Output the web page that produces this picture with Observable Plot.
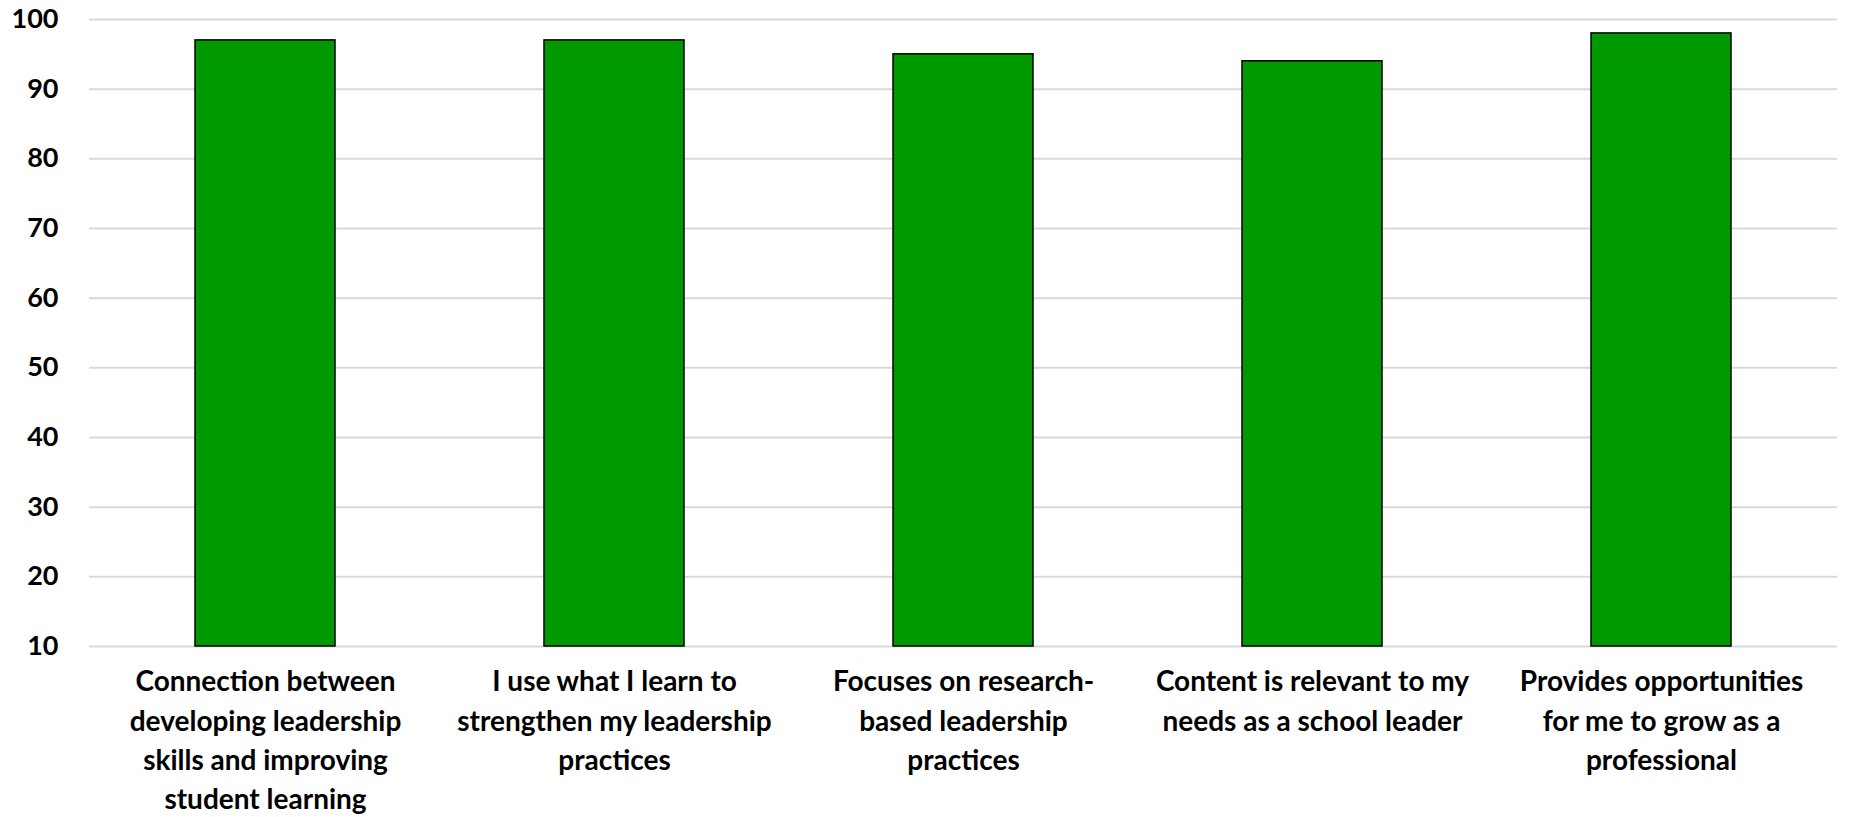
<!DOCTYPE html>
<html>
<head>
<meta charset="utf-8">
<script src="https://cdn.jsdelivr.net/npm/d3@7"></script>
<script src="https://cdn.jsdelivr.net/npm/@observablehq/plot@0.6"></script>
<style>
  html, body { margin: 0; padding: 0; background: #fff; }
  #chart svg { display: block; }
</style>
</head>
<body>
<div id="chart"></div>
<script>
const categories = [
  "Connection between developing leadership skills and improving student learning",
  "I use what I learn to strengthen my leadership practices",
  "Focuses on research-based leadership practices",
  "Content is relevant to my needs as a school leader",
  "Provides opportunities for me to grow as a professional"
];
const tickLabels = [
  "Connection between\ndeveloping leadership\nskills and improving\nstudent learning",
  "I use what I learn to\nstrengthen my leadership\npractices",
  "Focuses on research-\nbased leadership\npractices",
  "Content is relevant to my\nneeds as a school leader",
  "Provides opportunities\nfor me to grow as a\nprofessional"
];
const values = [97, 97, 95, 94, 98];
const yTicks = [10, 20, 30, 40, 50, 60, 70, 80, 90, 100];

const data = categories.map((c, i) => ({category: c, label: tickLabels[i], value: values[i]}));
const labelOf = new Map(data.map(d => [d.category, d.label]));

const chart = Plot.plot({
  width: 1850,
  height: 817,
  marginTop: 19,
  marginBottom: 171,
  marginLeft: 89,
  marginRight: 13,
  style: {fontFamily: "Lato, 'Open Sans', sans-serif", fontWeight: "bold", color: "#000", background: "#fff"},
  x: {domain: categories, paddingInner: 0.6, paddingOuter: 0.3, label: null},
  y: {domain: [10, 100], label: null},
  marks: [
    Plot.gridY(yTicks, {stroke: "#d9d9d9", strokeOpacity: 1, strokeWidth: 2}),
    Plot.barY(data, {x: "category", y1: () => 10, y2: "value", fill: "#009900", stroke: "#000", strokeWidth: 1.5}),
    Plot.axisY(yTicks, {tickSize: 0, tickPadding: 31, fontSize: 27, fontWeight: "bold", fill: "#000", label: null}),
    Plot.axisX({tickSize: 0, tickPadding: 17, fontSize: 28, fontWeight: "bold", fill: "#000", lineHeight: 1.4, tickFormat: d => labelOf.get(d), label: null, style: {letterSpacing: "0.8px"}})
  ]
});
document.getElementById("chart").appendChild(chart);
</script>
</body>
</html>
